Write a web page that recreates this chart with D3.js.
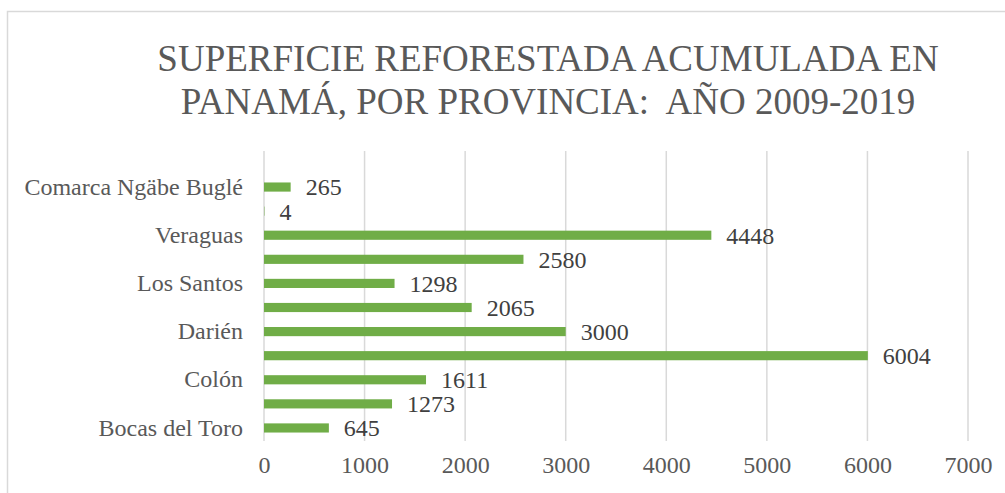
<script src="https://d3js.org/d3.v7.min.js" charset="utf-8"></script>

<style>
body { margin: 0; background: #fff; }
svg text { font-family: "Liberation Serif", "Times New Roman", serif; }
.tick line { display: none; }
.domain { display: none; }
</style>
<svg class="chart"></svg>
<script>

var provincias = ["Bocas del Toro", "Coclé", "Colón", "Chiriquí", "Darién", "Herrera",
  "Los Santos", "Panamá", "Veraguas", "Comarca Emberá", "Comarca Ngäbe Buglé"];
var hectareas = [645, 1273, 1611, 6004, 3000, 2065, 1298, 2580, 4448, 4, 265];
var xTicks = [0, 1000, 2000, 3000, 4000, 5000, 6000, 7000];
var titulo = ["SUPERFICIE REFORESTADA ACUMULADA EN", "PANAMÁ, POR PROVINCIA:  AÑO 2009-2019"];

var width = 1005,
    height = 493;

var svg = d3.select(".chart")
  .attr("width", width)
  .attr("height", height);

// marco del grafico
svg.append("rect")
  .attr("x", 7.5).attr("y", 11.5)
  .attr("width", 1010).attr("height", 500)
  .attr("fill", "white")
  .attr("stroke", "#d9d9d9")
  .attr("stroke-width", 1.5);

svg.selectAll(".titulo").data(titulo).enter()
  .append("text")
  .attr("class", "titulo")
  .attr("x", 548)
  .attr("y", function (d, i) { return 71 + i * 43; })
  .attr("text-anchor", "middle")
  .attr("fill", "#595959")
  .style("font-size", "37px")
  .style("white-space", "pre")
  .text(function (d) { return d; });

var x = d3.scaleLinear().domain([0, 7000]).range([264, 968]);
var y = d3.scaleBand().domain(provincias).range([440, 175]).paddingInner(0.62).paddingOuter(0.31);

// lineas de cuadricula
svg.selectAll(".grid").data(xTicks).enter()
  .append("line")
  .attr("class", "grid")
  .attr("x1", function (d) { return x(d); })
  .attr("x2", function (d) { return x(d); })
  .attr("y1", 151)
  .attr("y2", 441)
  .attr("stroke", "#d9d9d9")
  .attr("stroke-width", 1.5);

// eje x
var xAxis = svg.append("g")
  .attr("transform", "translate(0,445)")
  .call(d3.axisBottom(x).tickValues(xTicks).tickFormat(d3.format("d")).tickSize(0).tickPadding(11));
xAxis.attr("font-family", null).attr("font-size", null);
xAxis.selectAll("text")
  .style("font-size", "24px")
  .attr("fill", "#595959");

// eje y: solo una de cada dos etiquetas
var yAxis = svg.append("g")
  .attr("transform", "translate(243,0)")
  .call(d3.axisLeft(y).tickSize(0).tickPadding(0)
    .tickFormat(function (d, i) { return i % 2 == 0 ? d : ""; }));
yAxis.attr("font-family", null).attr("font-size", null);
yAxis.selectAll("text")
  .style("font-size", "24px")
  .attr("fill", "#595959");

var barras = provincias.map(function (p, i) { return {"nombre": p, "valor": hectareas[i]}; });

svg.selectAll(".barra").data(barras).enter()
  .append("rect")
  .attr("class", "barra")
  .attr("x", x(0))
  .attr("y", function (d) { return y(d.nombre); })
  .attr("width", function (d) { return x(d.valor) - x(0); })
  .attr("height", y.bandwidth())
  .attr("fill", "#70ad47");

svg.selectAll(".valor").data(barras).enter()
  .append("text")
  .attr("class", "valor")
  .attr("x", function (d) { return x(d.valor) + 15; })
  .attr("y", function (d) { return y(d.nombre) + y.bandwidth() / 2; })
  .attr("dy", "0.35em")
  .style("font-size", "24px")
  .attr("fill", "#404040")
  .text(function (d) { return d.valor; });

</script>
